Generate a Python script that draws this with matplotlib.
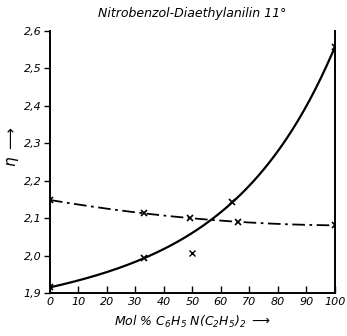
import numpy as np
import matplotlib
matplotlib.use("Agg")
import matplotlib.pyplot as plt

# viscosity of nitrobenzene / diethylaniline mixtures at 11 deg
mol_pct = [0, 33, 64, 100]
eta_meas = [1.915, 1.993, 2.142, 2.557]
outlier_x = [50]
outlier_y = [2.008]

mol_pct_ideal = [0, 33, 49, 66, 100]
eta_ideal = [2.148, 2.114, 2.100, 2.089, 2.081]

x_ticks = list(range(0, 101, 10))
y_ticks = [1.9, 2.0, 2.1, 2.2, 2.3, 2.4, 2.5, 2.6]
y_labels = ["1,9", "2,0", "2,1", "2,2", "2,3", "2,4", "2,5", "2,6"]

plt.rcParams['font.family'] = ['DejaVu Sans']
plt.rcParams['font.style'] = 'italic'

fig = plt.figure(figsize=(3.47, 3.36), dpi=100)
ax = fig.add_axes([0.144, 0.128, 0.821, 0.780])

xs = np.linspace(0, 100, 200)

# convex smooth curve: least squares on 1, x, exp(x/35)
def basis(x):
    x = np.asarray(x, dtype=float)
    return np.column_stack([np.ones_like(x), x, np.exp(x / 35.0)])

coef, *_ = np.linalg.lstsq(basis(mol_pct), np.array(eta_meas), rcond=None)
ax.plot(xs, basis(xs) @ coef, color='black', lw=1.6)
ax.plot(mol_pct, eta_meas, 'x', color='black', ms=5, mew=1.2)

c2 = np.polyfit(mol_pct_ideal, eta_ideal, 2)
ax.plot(xs, np.polyval(c2, xs), color='black', lw=1.3, linestyle=(0, (7, 2.5, 1.5, 2.5)))
ax.plot(mol_pct_ideal, eta_ideal, 'x', color='black', ms=5, mew=1.2)

ax.plot(outlier_x, outlier_y, 'x', color='black', ms=5, mew=1.0)

ax.set_xlim(0, 100)
ax.set_ylim(1.9, 2.6)
ax.set_xticks(x_ticks)
ax.set_xticklabels([str(t) for t in x_ticks], fontsize=8)
ax.set_yticks(y_ticks)
ax.set_yticklabels(y_labels, fontsize=8)
ax.tick_params(axis='x', direction='in', length=5, width=1, pad=3)
ax.tick_params(axis='y', direction='out', length=4, width=1, pad=2)

ax.spines['top'].set_visible(False)
for s in ['left', 'right', 'bottom']:
    ax.spines[s].set_linewidth(1.4)

ax.set_title("Nitrobenzol-Diaethylanilin 11°", fontsize=9, pad=10)
ax.set_xlabel("Mol % C$_6$H$_5$ N(C$_2$H$_5$)$_2$ $\\longrightarrow$", fontsize=9, labelpad=5)
ax.set_ylabel("η $\\longrightarrow$", fontsize=11)
ax.yaxis.set_label_coords(-0.1, 0.56)

fig.savefig("out.png", dpi=100)
